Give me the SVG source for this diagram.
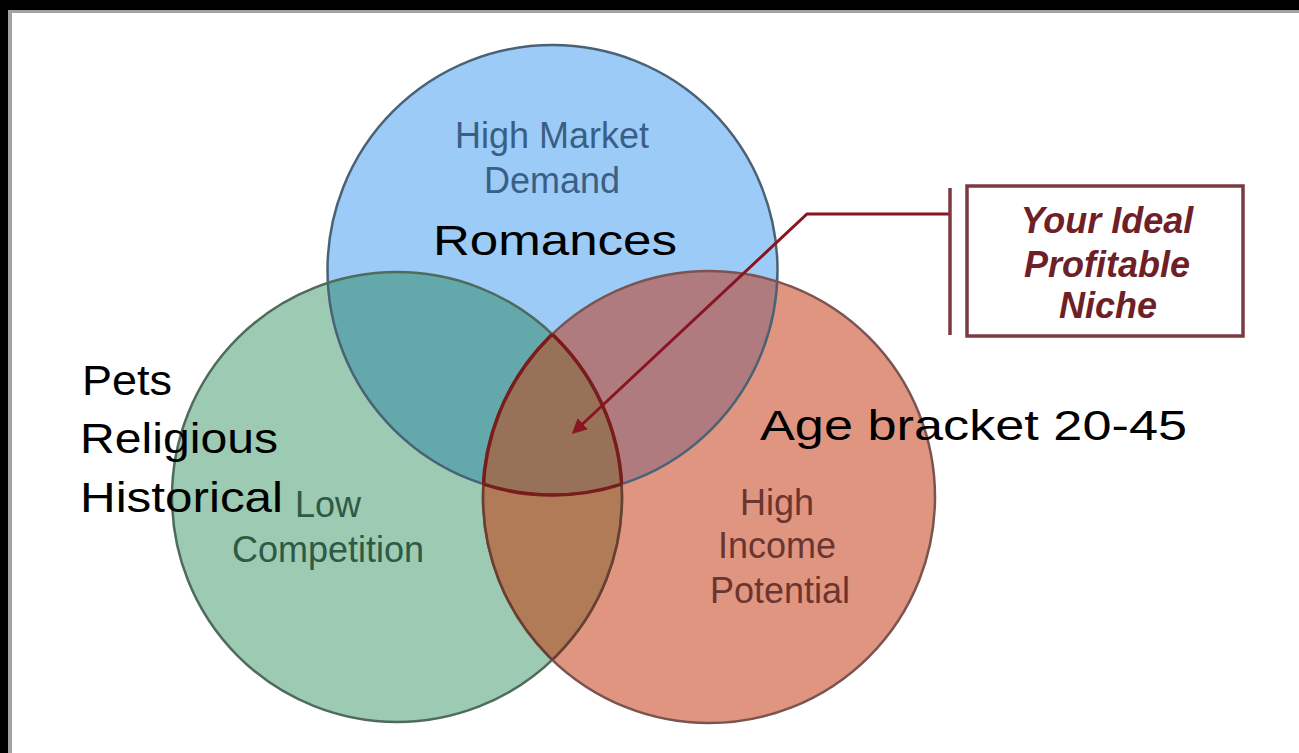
<svg xmlns="http://www.w3.org/2000/svg" width="1299" height="753" viewBox="0 0 1299 753">
<defs>
<style>
.lbl{font-family:"Liberation Sans",Arial,sans-serif;font-size:36px;text-anchor:middle}
.big{font-family:"Liberation Sans",Arial,sans-serif;font-size:43px;fill:#000}
.box{font-family:"Liberation Sans",Arial,sans-serif;font-size:36px;font-weight:bold;font-style:italic;fill:#6e1f28;text-anchor:middle}
.edge{fill:none;stroke-width:2.5}
.hl{fill:none;stroke:#7a1c1c;stroke-width:3.5}
</style>
<clipPath id="cB"><circle cx="552.5" cy="270" r="225"/></clipPath>
<clipPath id="cG"><circle cx="397" cy="497" r="225"/></clipPath>
<clipPath id="cR"><circle cx="709" cy="497" r="226"/></clipPath>
<marker id="ah" viewBox="0 0 10 10" refX="8" refY="5" markerWidth="5" markerHeight="5" orient="auto" markerUnits="strokeWidth">
<path d="M0,0 L10,5 L0,10 z" fill="#8a1520"/>
</marker>
</defs>
<rect x="0" y="0" width="1299" height="753" fill="#ffffff"/>
<rect x="0" y="0" width="1299" height="10" fill="#000"/>
<rect x="0" y="0" width="8" height="753" fill="#000"/>
<rect x="8" y="10" width="1291" height="3" fill="#a3a3a3"/>
<rect x="8" y="10" width="4" height="743" fill="#a3a3a3"/>

<g id="blue-circle">
<circle cx="552.5" cy="270" r="225" fill="#9ccbf7"/>
</g>
<g id="green-circle">
<circle cx="397" cy="497" r="225" fill="#9ccab3"/>
</g>
<g id="red-circle">
<circle cx="709" cy="497" r="226" fill="#e09580"/>
</g>
<g id="overlaps">
<circle cx="552.5" cy="270" r="225" fill="#63a9ab" clip-path="url(#cG)"/>
<circle cx="552.5" cy="270" r="225" fill="#b07b7f" clip-path="url(#cR)"/>
<circle cx="397" cy="497" r="225" fill="#b27b58" clip-path="url(#cR)"/>
<g clip-path="url(#cR)"><circle cx="552.5" cy="270" r="225" fill="#977258" clip-path="url(#cG)"/></g>
</g>
<g id="outlines">
<circle class="edge" cx="552.5" cy="270" r="225" stroke="#4a6275"/>
<circle class="edge" cx="397" cy="497" r="225" stroke="#4e6b5c"/>
<circle class="edge" cx="709" cy="497" r="226" stroke="#7a5450"/>
<g clip-path="url(#cR)"><circle class="edge" cx="397" cy="497" r="225" stroke="#6b3f30"/></g>
<g clip-path="url(#cG)"><circle class="edge" cx="709" cy="497" r="226" stroke="#6b3f30"/></g>
<g clip-path="url(#cB)"><circle class="hl" cx="397" cy="497" r="225" clip-path="url(#cR)"/></g>
<g clip-path="url(#cB)"><circle class="hl" cx="709" cy="497" r="226" clip-path="url(#cG)"/></g>
<g clip-path="url(#cG)"><circle class="hl" cx="552.5" cy="270" r="225" clip-path="url(#cR)"/></g>
</g>

<g id="labels-circles">
<text class="lbl" fill="#3a5f85" x="552" y="148">High Market</text>
<text class="lbl" fill="#3a5f85" x="552" y="193">Demand</text>
<text class="lbl" fill="#2e5a44" x="328" y="517">Low</text>
<text class="lbl" fill="#2e5a44" x="328" y="562">Competition</text>
<text class="lbl" fill="#6a3530" x="777" y="515">High</text>
<text class="lbl" fill="#6a3530" x="777" y="558">Income</text>
<text class="lbl" fill="#6a3530" x="780" y="603">Potential</text>
</g>

<g id="connectors">
<polyline points="950,214 807,214 574,432" fill="none" stroke="#8a1520" stroke-width="3" marker-end="url(#ah)"/>
<line x1="950" y1="188" x2="950" y2="335" stroke="#7a3a40" stroke-width="3.5"/>
</g>

<g id="niche-box">
<rect x="967" y="186" width="276" height="150" fill="#ffffff" stroke="#7a3a40" stroke-width="3.5"/>
<text class="box" x="1107" y="233">Your Ideal</text>
<text class="box" x="1107" y="277">Profitable</text>
<text class="box" x="1108" y="318">Niche</text>
</g>

<g id="annotations">
<text class="big" x="433" y="255" textLength="244" lengthAdjust="spacingAndGlyphs">Romances</text>
<text class="big" x="82" y="395" textLength="90" lengthAdjust="spacingAndGlyphs">Pets</text>
<text class="big" x="80" y="453" textLength="198" lengthAdjust="spacingAndGlyphs">Religious</text>
<text class="big" x="80" y="512" textLength="203" lengthAdjust="spacingAndGlyphs">Historical</text>
<text class="big" x="760" y="440" textLength="427" lengthAdjust="spacingAndGlyphs">Age bracket 20-45</text>
</g>
</svg>
